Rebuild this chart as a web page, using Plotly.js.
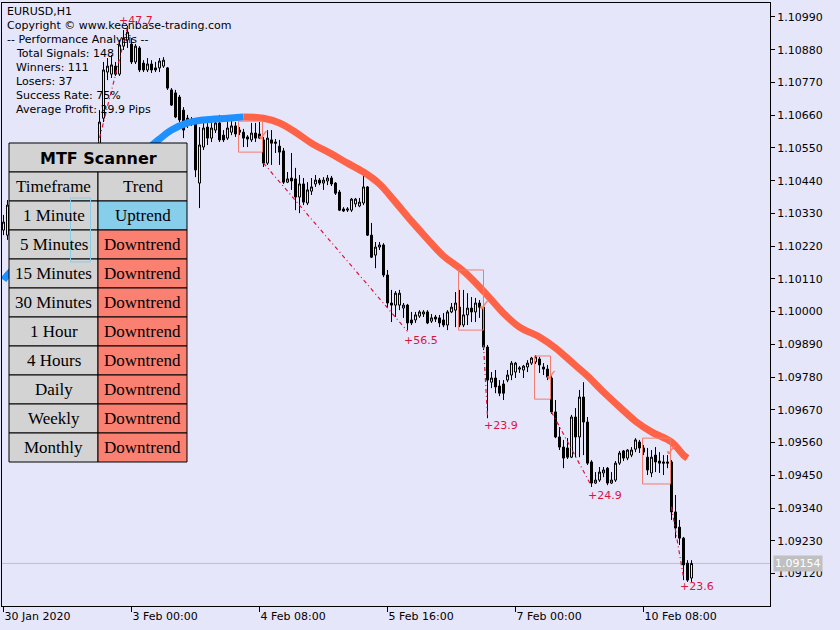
<!DOCTYPE html>
<html><head><meta charset="utf-8">
<script src="https://cdn.plot.ly/plotly-3.0.1.min.js"></script>
<style>html,body{margin:0;padding:0;background:#E6E6FA;}#chart{width:840px;height:630px;}</style>
</head><body><div id="chart"></div>
<script>
// ---------- DATA ----------
const barIndex = Array.from({length:173},(_, i)=>i);
const open = [1.10274,1.10257,1.10358,1.10325,1.10291,1.10241,1.10200,1.10224,1.10180,1.10140,
1.10167,1.10190,1.10153,1.10113,1.10140,1.10167,1.10146,1.10190,1.10224,1.10207,
1.10257,1.10291,1.10281,1.10358,1.10449,1.10650,1.10805,1.10798,1.10825,1.10798,
1.10892,1.10913,1.10899,1.10839,1.10886,1.10835,1.10812,1.10832,1.10819,1.10819,
1.10825,1.10819,1.10745,1.10735,1.10721,1.10677,1.10650,1.10644,1.10637,1.10432,
1.10553,1.10620,1.10583,1.10610,1.10634,1.10593,1.10583,1.10603,1.10624,1.10610,
1.10603,1.10587,1.10577,1.10600,1.10597,1.10577,1.10499,1.10577,1.10570,1.10556,
1.10540,1.10435,1.10449,1.10446,1.10385,1.10429,1.10365,1.10405,1.10429,1.10442,
1.10432,1.10439,1.10449,1.10432,1.10402,1.10345,1.10341,1.10341,1.10362,1.10355,
1.10365,1.10419,1.10257,1.10190,1.10217,1.10224,1.10123,1.10029,1.10022,1.10022,
1.10012,1.10022,1.09972,1.09972,1.09985,1.09992,1.09999,1.09968,1.09982,1.09979,
1.09972,1.09955,1.09999,1.10005,1.10015,1.09955,1.09989,1.10012,1.09999,1.10029,
1.10015,1.09881,1.09763,1.09777,1.09750,1.09757,1.09770,1.09787,1.09797,1.09807,
1.09804,1.09814,1.09827,1.09831,1.09841,1.09814,1.09807,1.09777,1.09663,1.09579,
1.09545,1.09542,1.09511,1.09646,1.09579,1.09713,1.09629,1.09495,1.09424,1.09434,
1.09458,1.09474,1.09424,1.09434,1.09491,1.09532,1.09508,1.09518,1.09538,1.09562,
1.09542,1.09511,1.09458,1.09518,1.09498,1.09495,1.09495,1.09495,1.09327,1.09276,
1.09239,1.09155,1.09105];
const high = [1.10325,1.10375,1.10382,1.10348,1.10308,1.10257,1.10241,1.10241,1.10200,1.10190,
1.10207,1.10207,1.10167,1.10160,1.10180,1.10190,1.10207,1.10241,1.10247,1.10274,
1.10314,1.10325,1.10375,1.10476,1.10677,1.10839,1.10852,1.10862,1.10839,1.10913,
1.10946,1.10960,1.10919,1.10899,1.10892,1.10845,1.10852,1.10845,1.10839,1.10852,
1.10855,1.10822,1.10751,1.10745,1.10728,1.10687,1.10661,1.10654,1.10644,1.10620,
1.10644,1.10644,1.10637,1.10650,1.10661,1.10610,1.10644,1.10650,1.10637,1.10620,
1.10614,1.10593,1.10634,1.10634,1.10637,1.10587,1.10610,1.10610,1.10580,1.10577,
1.10550,1.10469,1.10533,1.10483,1.10459,1.10449,1.10435,1.10449,1.10459,1.10449,
1.10452,1.10459,1.10456,1.10435,1.10409,1.10351,1.10351,1.10382,1.10382,1.10382,
1.10476,1.10422,1.10298,1.10234,1.10234,1.10230,1.10140,1.10073,1.10069,1.10073,
1.10029,1.10026,1.09999,1.09999,1.10005,1.10005,1.10005,1.09992,1.09989,1.09989,
1.09995,1.10005,1.10029,1.10066,1.10073,1.10073,1.10062,1.10049,1.10046,1.10039,
1.10029,1.09888,1.09797,1.09804,1.09770,1.09770,1.09804,1.09834,1.09831,1.09817,
1.09821,1.09837,1.09848,1.09854,1.09848,1.09827,1.09821,1.09787,1.09703,1.09612,
1.09569,1.09575,1.09653,1.09676,1.09737,1.09763,1.09646,1.09501,1.09461,1.09478,
1.09478,1.09478,1.09461,1.09498,1.09532,1.09535,1.09538,1.09545,1.09575,1.09569,
1.09552,1.09542,1.09535,1.09545,1.09528,1.09518,1.09518,1.09501,1.09384,1.09300,
1.09243,1.09165,1.09165];
const low = [1.10257,1.10241,1.10308,1.10267,1.10214,1.10180,1.10167,1.10153,1.10120,1.10113,
1.10146,1.10133,1.10089,1.10096,1.10120,1.10126,1.10133,1.10173,1.10187,1.10194,
1.10241,1.10261,1.10267,1.10341,1.10435,1.10637,1.10778,1.10785,1.10792,1.10792,
1.10879,1.10886,1.10832,1.10832,1.10805,1.10805,1.10805,1.10802,1.10805,1.10805,
1.10819,1.10745,1.10691,1.10650,1.10637,1.10583,1.10617,1.10624,1.10452,1.10348,
1.10543,1.10560,1.10570,1.10600,1.10570,1.10570,1.10577,1.10593,1.10587,1.10593,
1.10553,1.10553,1.10570,1.10570,1.10580,1.10486,1.10493,1.10493,1.10533,1.10493,
1.10429,1.10432,1.10409,1.10341,1.10331,1.10358,1.10358,1.10392,1.10419,1.10425,
1.10409,1.10425,1.10422,1.10392,1.10338,1.10335,1.10335,1.10335,1.10351,1.10351,
1.10358,1.10254,1.10180,1.10146,1.10207,1.10116,1.10015,1.09965,1.09982,1.10005,
1.09979,1.09938,1.09955,1.09962,1.09979,1.09982,1.09958,1.09962,1.09965,1.09948,
1.09948,1.09938,1.09995,1.09948,1.09948,1.09948,1.09955,1.09965,1.09965,1.09979,
1.09871,1.09642,1.09743,1.09726,1.09716,1.09703,1.09763,1.09770,1.09777,1.09794,
1.09777,1.09797,1.09821,1.09824,1.09794,1.09787,1.09770,1.09656,1.09575,1.09535,
1.09474,1.09505,1.09508,1.09511,1.09511,1.09518,1.09485,1.09411,1.09421,1.09428,
1.09444,1.09417,1.09421,1.09428,1.09485,1.09498,1.09501,1.09511,1.09528,1.09525,
1.09518,1.09451,1.09444,1.09461,1.09458,1.09451,1.09474,1.09300,1.09239,1.09216,
1.09098,1.09092,1.09092];
const close = [1.10301,1.10358,1.10325,1.10291,1.10241,1.10200,1.10224,1.10180,1.10140,1.10167,
1.10190,1.10153,1.10113,1.10140,1.10167,1.10146,1.10190,1.10224,1.10207,1.10257,
1.10291,1.10281,1.10358,1.10449,1.10637,1.10812,1.10825,1.10829,1.10798,1.10896,
1.10919,1.10939,1.10839,1.10892,1.10812,1.10812,1.10832,1.10812,1.10812,1.10842,
1.10845,1.10751,1.10694,1.10654,1.10644,1.10610,1.10634,1.10634,1.10476,1.10560,
1.10617,1.10583,1.10617,1.10634,1.10577,1.10577,1.10617,1.10624,1.10597,1.10603,
1.10583,1.10580,1.10600,1.10583,1.10583,1.10499,1.10583,1.10566,1.10566,1.10536,
1.10435,1.10446,1.10439,1.10385,1.10429,1.10368,1.10409,1.10419,1.10442,1.10432,
1.10442,1.10449,1.10429,1.10398,1.10341,1.10338,1.10345,1.10378,1.10378,1.10368,
1.10419,1.10257,1.10183,1.10217,1.10224,1.10123,1.10029,1.10022,1.10062,1.10062,
1.10022,1.09962,1.09962,1.09989,1.09999,1.09999,1.09962,1.09979,1.09975,1.09962,
1.09955,1.09999,1.10015,1.10029,1.09955,1.09989,1.10012,1.09999,1.10029,1.10015,
1.09881,1.09770,1.09777,1.09747,1.09726,1.09726,1.09787,1.09827,1.09827,1.09811,
1.09817,1.09827,1.09844,1.09848,1.09821,1.09807,1.09780,1.09663,1.09579,1.09545,
1.09508,1.09511,1.09646,1.09579,1.09713,1.09629,1.09491,1.09424,1.09434,1.09461,
1.09468,1.09424,1.09434,1.09491,1.09525,1.09508,1.09535,1.09535,1.09569,1.09542,
1.09528,1.09468,1.09511,1.09495,1.09491,1.09491,1.09491,1.09327,1.09273,1.09239,
1.09149,1.09098,1.09154];

// moving average (up = blue, down = tomato)
const maUpIdx = [0,1,10,20,30,39,42,46,50,56,60];
const maUp = [1.10106,1.10123,1.10241,1.10358,1.10476,1.10580,1.10610,1.10634,1.10644,1.10650,1.10654];
const maDownIdx = [60,65,69,73,77,82,86,90,94,98,102,106,110,115,120,125,129,134,138,142,146,150,154,158,162,167,170,171];
const maDown = [1.10654,1.10650,1.10634,1.10603,1.10566,1.10530,1.10499,1.10469,1.10429,1.10368,1.10304,1.10244,1.10187,1.10136,1.10069,1.09995,1.09948,1.09915,1.09878,1.09831,1.09784,1.09730,1.09680,1.09632,1.09596,1.09562,1.09518,1.09508];

// trades: entry/exit bar & price, profit label
const tradeType = ['buy','sell','sell','sell','sell'];
const tradeStartIdx = [22,65,120,137,167];
const tradeStartPrice = [1.10476,1.10499,1.09888,1.09663,1.09344];
const tradeEndIdx = [31,101,121,147,170];
const tradeEndPrice = [1.10956,1.09934,1.09649,1.09414,1.09108];
const tradeLabel = ['+47.7','+56.5','+23.9','+24.9','+23.6'];

// signal boxes
const boxColor = ['#87CEEB','#F47C6C','#F47C6C','#F47C6C','#F47C6C'];
const boxIdx0 = [16.75,58.75,113.75,132.75,159.75];
const boxIdx1 = [21.75,64.75,120,136.75,166.75];
const boxTop = [1.10382,1.10640,1.10140,1.09851,1.09575];
const boxBottom = [1.10167,1.10536,1.09938,1.09706,1.09421];
const checkIdx = [65,120.25,137,167];
const checkPrice = [1.10587,1.10015,1.09780,1.09528];

const currentPrice = 1.09154;
const xTickIdx = [0,32,64,96,128,160];
const xTickText = ['30 Jan 2020','3 Feb 00:00','4 Feb 08:00','5 Feb 16:00','7 Feb 00:00','10 Feb 08:00'];
const yTickVals = [1.09120,1.09230,1.09340,1.09450,1.09560,1.09670,1.09780,1.09890,1.10000,1.10110,1.10220,1.10330,1.10440,1.10550,1.10660,1.10770,1.10880,1.10990];

const infoLines = ['EURUSD,H1','Copyright © www.keenbase-trading.com','-- Performance Analysis --','Total Signals: 148','Winners: 111','Losers: 37','Success Rate: 75%','Average Profit: 29.9 Pips'];
const infoIndent = [0,0,0,1,1,1,1,1];

const scannerTitle = 'MTF Scanner';
const scannerHead = ['Timeframe','Trend'];
const tfNames = ['1 Minute','5 Minutes','15 Minutes','30 Minutes','1 Hour','4 Hours','Daily','Weekly','Monthly'];
const tfTrend = ['Uptrend','Downtrend','Downtrend','Downtrend','Downtrend','Downtrend','Downtrend','Downtrend','Downtrend'];

// ---------- LAYOUT HELPERS ----------
const BG = '#E6E6FA';
const PL=2, PR=770, PT=3, PB=606;
const px = x => (x-PL)/(PR-PL);
const py = y => (PB-y)/(PB-PT);
const shapes=[], annotations=[];
const baseFont = {family:'DejaVu Sans, Verdana, sans-serif', size:11, color:'#000'};

// info text
infoLines.forEach((t,k)=>{
  annotations.push({xref:'paper',yref:'paper',x:px(6+infoIndent[k]*9),y:py(11.5+k*14),text:t,showarrow:false,xanchor:'left',yanchor:'middle',font:baseFont,borderpad:0});
});

const traces=[];
traces.push({type:'candlestick',x:barIndex,open:open,high:high,low:low,close:close,
  increasing:{line:{color:'#000',width:1},fillcolor:BG},
  decreasing:{line:{color:'#000',width:1},fillcolor:'#000'},
  whiskerwidth:0,hoverinfo:'skip',showlegend:false});
traces.push({type:'scatter',mode:'lines',x:maUpIdx,y:maUp,line:{color:'#1E90FF',width:7,shape:'spline'},hoverinfo:'skip',showlegend:false});
traces.push({type:'scatter',mode:'lines',x:maDownIdx,y:maDown,line:{color:'#FF6347',width:7,shape:'spline'},hoverinfo:'skip',showlegend:false});
tradeType.forEach((tp,k)=>{
  traces.push({type:'scatter',mode:'lines',x:[tradeStartIdx[k],tradeEndIdx[k]],y:[tradeStartPrice[k],tradeEndPrice[k]],
    line:{color:'#DC143C',width:1.2,dash:'4px,3px,1px,3px'},hoverinfo:'skip',showlegend:false});
  annotations.push({xref:'x',yref:'y',x:tradeEndIdx[k],y:tradeEndPrice[k],text:tradeLabel[k],showarrow:false,
    xanchor:'left',yanchor: tp==='buy'?'bottom':'top',xshift: tp==='buy'?-10:-5,yshift: tp==='buy'?-1:-2,
    font:{family:'DejaVu Sans, sans-serif',size:11,color:'#DC143C'},borderpad:0});
});
traces.push({type:'scatter',mode:'text',x:checkIdx,y:checkPrice,text:checkIdx.map(()=> '✓'),
  textfont:{family:'DejaVu Sans',size:16,color:'#FF7F6A'},hoverinfo:'skip',showlegend:false});

// boxes (drawn in data coords)
boxIdx0.forEach((b,k)=>{
  if(k===0) return;
  shapes.push({type:'rect',xref:'x',yref:'y',x0:b,x1:boxIdx1[k],y0:boxBottom[k],y1:boxTop[k],line:{color:boxColor[k],width:1},fillcolor:'rgba(0,0,0,0)',layer:'above'});
});

// current price line
shapes.push({type:'line',xref:'paper',yref:'y',x0:0,x1:1,y0:currentPrice,y1:currentPrice,line:{color:'#C0C0C0',width:1},layer:'below'});
annotations.push({xref:'paper',yref:'y',x:1,y:currentPrice,xanchor:'left',yanchor:'middle',xshift:3,text:currentPrice.toFixed(5),
  showarrow:false,bgcolor:'#C0C0C0',font:{family:'DejaVu Sans, sans-serif',size:11,color:'#FFFFFF'},borderpad:1});

// MTF scanner table
const tX0=9, tXm=98, tX1=187, tY0=143, rowH=29;
function cell(x0,y0,x1,y1,fill){shapes.push({type:'rect',xref:'paper',yref:'paper',x0:px(x0),x1:px(x1),y0:py(y1),y1:py(y0),fillcolor:fill,line:{color:'#000',width:1},layer:'above'});}
function ctext(x,y,t,font){annotations.push({xref:'paper',yref:'paper',x:px(x),y:py(y),text:t,showarrow:false,xanchor:'center',yanchor:'middle',font:font,borderpad:0});}
const serif = {family:'Liberation Serif, Times New Roman, serif',size:17,color:'#000'};
cell(tX0,tY0,tX1,tY0+rowH,'#D3D3D3');
ctext((tX0+tX1)/2,tY0+rowH/2+1,'<b>'+scannerTitle+'</b>',{family:'DejaVu Sans, Verdana, sans-serif',size:16,color:'#000'});
let ry=tY0+rowH;
cell(tX0,ry,tXm,ry+rowH,'#D3D3D3'); cell(tXm,ry,tX1,ry+rowH,'#D3D3D3');
ctext((tX0+tXm)/2,ry+rowH/2,scannerHead[0],serif); ctext((tXm+tX1)/2,ry+rowH/2,scannerHead[1],serif);
tfNames.forEach((n,k)=>{
  const y0=tY0+rowH*(k+2);
  cell(tX0,y0,tXm,y0+rowH,'#D3D3D3');
  cell(tXm,y0,tX1,y0+rowH,tfTrend[k]==='Uptrend'?'#87CEEB':'#FA8072');
  ctext((tX0+tXm)/2,y0+rowH/2,n,serif);
  ctext((tXm+tX1)/2,y0+rowH/2,tfTrend[k],serif);
});
// buy box drawn over the table
shapes.push({type:'rect',xref:'x',yref:'y',x0:boxIdx0[0],x1:boxIdx1[0],y0:boxBottom[0],y1:boxTop[0],line:{color:boxColor[0],width:1},fillcolor:'rgba(0,0,0,0)',layer:'above'});

const layout = {
  width:840,height:630,paper_bgcolor:BG,plot_bgcolor:BG,
  margin:{l:PL,r:840-PR,t:PT,b:630-PB,pad:0},
  showlegend:false,hovermode:false,
  boxgap:0.5,boxgroupgap:0,
  font:baseFont,
  xaxis:{range:[-0.375,191.625],rangeslider:{visible:false},showgrid:false,zeroline:false,
    showline:true,mirror:true,linecolor:'#000',linewidth:1,
    tickmode:'array',tickvals:xTickIdx,ticktext:xTickText,ticks:'outside',ticklen:5,tickcolor:'#000',
    ticklabelposition:'outside right',tickfont:baseFont},
  yaxis:{range:[1.09011,1.11037],side:'right',showgrid:false,zeroline:false,
    showline:true,mirror:true,linecolor:'#000',linewidth:1,
    tickmode:'array',tickvals:yTickVals,tickformat:'.5f',ticks:'outside',ticklen:4,tickcolor:'#000',tickfont:baseFont},
  shapes:shapes,annotations:annotations
};
Plotly.newPlot('chart',traces,layout,{displayModeBar:false,staticPlot:true});
</script></body></html>
